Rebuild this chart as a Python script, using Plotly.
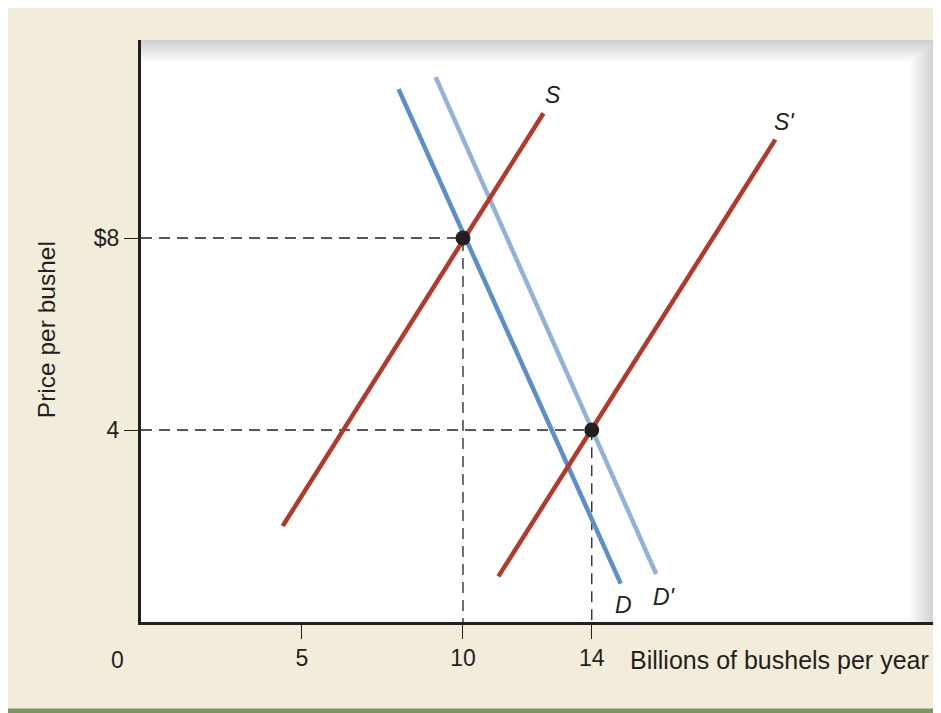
import plotly.graph_objects as go

# Curves (billions of bushels, dollars per bushel)
s_x = [4.4, 12.5]
s_y = [2.0, 10.6]
s2_x = [11.1, 19.7]
s2_y = [0.95, 10.05]
d_x = [8.0, 14.9]
d_y = [11.1, 0.8]
d2_x = [9.15, 16.0]
d2_y = [11.35, 1.0]

# Equilibria
eq_x = [10, 14]
eq_y = [8, 4]

x_ticks = [5, 10, 14]
y_ticks = [4, 8]
y_tick_text = ["4", "$8"]

RED = "#b3392b"
BLUE = "#5b8fc8"
LIGHT_BLUE = "#92b2d8"
INK = "#231f20"
BEIGE = "#f1edda"
FONT = "Liberation Sans, Arial, sans-serif"

fig = go.Figure()

# dashed guide lines to the axes
for qx, py in zip(eq_x, eq_y):
    fig.add_trace(go.Scatter(x=[0, qx, qx], y=[py, py, 0], mode="lines",
                             line=dict(color=INK, width=1.3, dash="11px,7px"),
                             hoverinfo="skip"))

fig.add_trace(go.Scatter(x=d2_x, y=d2_y, mode="lines", line=dict(color=LIGHT_BLUE, width=4.5)))
fig.add_trace(go.Scatter(x=d_x, y=d_y, mode="lines", line=dict(color=BLUE, width=4.5)))
fig.add_trace(go.Scatter(x=s_x, y=s_y, mode="lines", line=dict(color=RED, width=4.5)))
fig.add_trace(go.Scatter(x=s2_x, y=s2_y, mode="lines", line=dict(color=RED, width=4.5)))
fig.add_trace(go.Scatter(x=eq_x, y=eq_y, mode="markers",
                         marker=dict(color=INK, size=15)))

# curve labels
labels = [("S", 12.8, 10.98), ("S'", 20.0, 10.42), ("D", 15.0, 0.35), ("D'", 16.25, 0.52)]
for txt, lx, ly in labels:
    fig.add_annotation(x=lx, y=ly, text="<i>%s</i>" % txt, showarrow=False,
                       font=dict(size=23, color=INK))

# plot panel: grey fade at top and right, white inside
steps = 10
shapes = []
for i in range(steps):
    t = i / (steps - 1)
    g = int(208 + (255 - 208) * t)
    shapes.append(dict(type="rect", xref="paper", yref="paper", layer="below",
                       x0=0, x1=1 - i * 0.0035, y0=0, y1=1 - i * 0.004,
                       line=dict(width=0), fillcolor="rgb(%d,%d,%d)" % (g, g + 1, g + 3)))
shapes.append(dict(type="path", xref="paper", yref="paper", layer="below",
                   path="M 0 0 L 0 0.96 L 0.94 0.96 Q 0.962 0.96 0.962 0.925 L 0.962 0 Z",
                   line=dict(width=0), fillcolor="white"))
# green rule along the bottom
shapes.append(dict(type="line", xref="paper", yref="paper", x0=-0.17, x1=1.01,
                   y0=-0.153, y1=-0.153, line=dict(color="#7a9462", width=5)))

fig.add_annotation(x=-0.030, y=0, xref="paper", yref="paper", yshift=-38,
                   xanchor="center", yanchor="middle", text="0",
                   showarrow=False, font=dict(size=23, color=INK))
fig.add_annotation(x=0.613, y=0, xref="paper", yref="paper", yshift=-38,
                   xanchor="left", yanchor="middle",
                   text="Billions of bushels per year", showarrow=False,
                   font=dict(size=25, color=INK))
fig.add_annotation(x=-0.118, y=0.502, xref="paper", yref="paper", textangle=-90,
                   xanchor="center", yanchor="middle",
                   text="Price per bushel", showarrow=False,
                   font=dict(size=24.5, color=INK))

fig.update_layout(
    width=941, height=713,
    margin=dict(l=133, r=14, t=32, b=99),
    paper_bgcolor=BEIGE,
    plot_bgcolor="white",
    showlegend=False,
    font=dict(family=FONT, size=23, color=INK),
    shapes=shapes,
    xaxis=dict(range=[0, 24.66], tickvals=x_ticks, ticks="outside", ticklen=14,
               tickwidth=1, tickcolor=INK, showgrid=False, zeroline=False,
               showline=True, linecolor=INK, linewidth=2.5, fixedrange=True,
               tickfont=dict(size=23)),
    yaxis=dict(range=[0, 12.125], tickvals=y_ticks, ticktext=y_tick_text,
               ticks="outside", ticklen=14, tickwidth=1, tickcolor=INK,
               showgrid=False, zeroline=False, showline=True, linecolor=INK,
               linewidth=3, fixedrange=True, tickfont=dict(size=23)),
)

fig.write_html("out.html")
